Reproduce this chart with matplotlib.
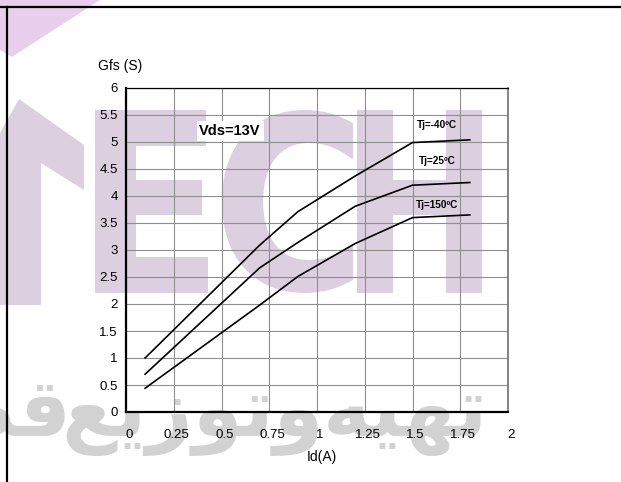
import matplotlib
matplotlib.use("Agg")
import matplotlib.pyplot as plt
from matplotlib.textpath import TextPath
from matplotlib.font_manager import FontProperties
from matplotlib.patches import PathPatch, Polygon
from matplotlib.transforms import Affine2D
from matplotlib.lines import Line2D

# ---- data ----
id_a = [0.1, 0.7, 0.9, 1.2, 1.5, 1.8]
gfs_m40 = [1.0, 3.09, 3.71, 4.37, 4.99, 5.04]
gfs_25 = [0.7, 2.67, 3.14, 3.81, 4.2, 4.25]
gfs_150 = [0.44, 1.98, 2.51, 3.12, 3.6, 3.65]

curve_labels = ["Tj=-40\u00baC", "Tj=25\u00baC", "Tj=150\u00baC"]
label_y = [5.31, 4.64, 3.83]

x_ticks = [0, 0.25, 0.5, 0.75, 1, 1.25, 1.5, 1.75, 2]
x_ticklabels = ["0", "0.25", "0.5", "0.75", "1", "1.25", "1.5", "1.75", "2"]
y_ticks = [0, 0.5, 1, 1.5, 2, 2.5, 3, 3.5, 4, 4.5, 5, 5.5, 6]
y_ticklabels = ["0", "0.5", "1", "1.5", "2", "2.5", "3", "3.5", "4", "4.5", "5", "5.5", "6"]

W, H = 621, 482
plt.rcParams["font.family"] = ["Liberation Sans", "DejaVu Sans"]

fig = plt.figure(figsize=(W / 100, H / 100), dpi=100)
fig.patch.set_facecolor("white")

# pixel (from top-left) -> figure transform
pix = Affine2D().scale(1 / W, -1 / H).translate(0, 1) + fig.transFigure

# ---- background watermark ----
wm_purple = "#dccfe0"
fig.add_artist(Polygon([(0, 0), (100, 0), (12, 57), (0, 50)], closed=True,
                       facecolor="#e8d0ec", edgecolor="none", transform=pix, zorder=-2))
fig.add_artist(Polygon([(0, 133), (19, 99), (84, 145), (84, 190), (41, 163), (41, 305), (0, 305)],
                       closed=True, facecolor=wm_purple, edgecolor="none", transform=pix, zorder=-2))

bold = FontProperties(family="DejaVu Sans", weight="bold")
for ch, x0, x1 in [("E", 95, 208), ("C", 222, 353), ("H", 357, 482)]:
    tp = TextPath((0, 0), ch, size=100, prop=bold)
    ext = tp.get_extents()
    tr = (Affine2D().translate(-ext.x0, -ext.y1)
          .scale((x1 - x0) / ext.width, -(293 - 110) / ext.height)
          .translate(x0, 110))
    fig.add_artist(PathPatch(tr.transform_path(tp), facecolor=wm_purple,
                             edgecolor="none", transform=pix, zorder=-2))

# arabic watermark, glyphs given in visual (left to right) order, one word at a time
arabic_words = ["\ufeea\ufef4\ufeec\ufe97",
                "\ufeca\ufef3\ufeaf\ufeee\ufe97\ufeed",
                "\ufe95\ufe8e\ufecc\ufec4\ufed7"]
word_right = [488, 324, 72]
for word, xr in zip(arabic_words, word_right):
    fig.text(xr / W, 1 - 436 / H, word, ha="right", va="baseline", fontsize=58,
             fontweight="bold", family="DejaVu Sans", color="#d2d2d2", zorder=-2)

# frame lines
fig.add_artist(Line2D([0, W], [7, 7], color="black", lw=1.6, transform=pix))
fig.add_artist(Line2D([7, 7], [7, H], color="black", lw=1.6, transform=pix))

# ---- chart ----
ax = fig.add_axes([126 / W, 1 - 412 / H, 382 / W, 324 / H])
ax.patch.set_alpha(0)

for ys in (gfs_m40, gfs_25, gfs_150):
    ax.plot(id_a, ys, color="black", lw=1.2, zorder=3)

for lab, ly in zip(curve_labels, label_y):
    ax.text(1.63, ly, lab, ha="center", va="center", fontsize=7.2, fontweight="bold", zorder=4)

ax.text(0.545, 5.2, "Vds=13V", ha="center", va="center", fontsize=10.5, fontweight="bold",
        zorder=4, bbox=dict(facecolor="white", edgecolor="none", pad=2))

ax.set_xlim(0, 2)
ax.set_ylim(0, 6)
ax.set_xticks(x_ticks)
ax.set_xticklabels(x_ticklabels)
ax.set_yticks(y_ticks)
ax.set_yticklabels(y_ticklabels)
ax.tick_params(axis="both", length=0, labelsize=9.5)
ax.tick_params(axis="x", pad=12)
ax.tick_params(axis="y", pad=6)
for lbl in ax.get_xticklabels():
    lbl.set_transform(lbl.get_transform() + Affine2D().translate(3, 0))

ax.grid(True, color="#8f8f8f", lw=0.8)
ax.set_axisbelow(True)

ax.spines["left"].set_linewidth(1.6)
ax.spines["bottom"].set_linewidth(1.6)
ax.spines["top"].set_linewidth(0.9)
ax.spines["right"].set_linewidth(1.2)
ax.spines["right"].set_color("#707070")

fig.text(98 / W, 1 - 66 / H, "Gfs (S)", ha="left", va="center", fontsize=10)
fig.text(322 / W, 1 - 457 / H, "Id(A)", ha="center", va="center", fontsize=10)

fig.savefig("out.png", dpi=100)
